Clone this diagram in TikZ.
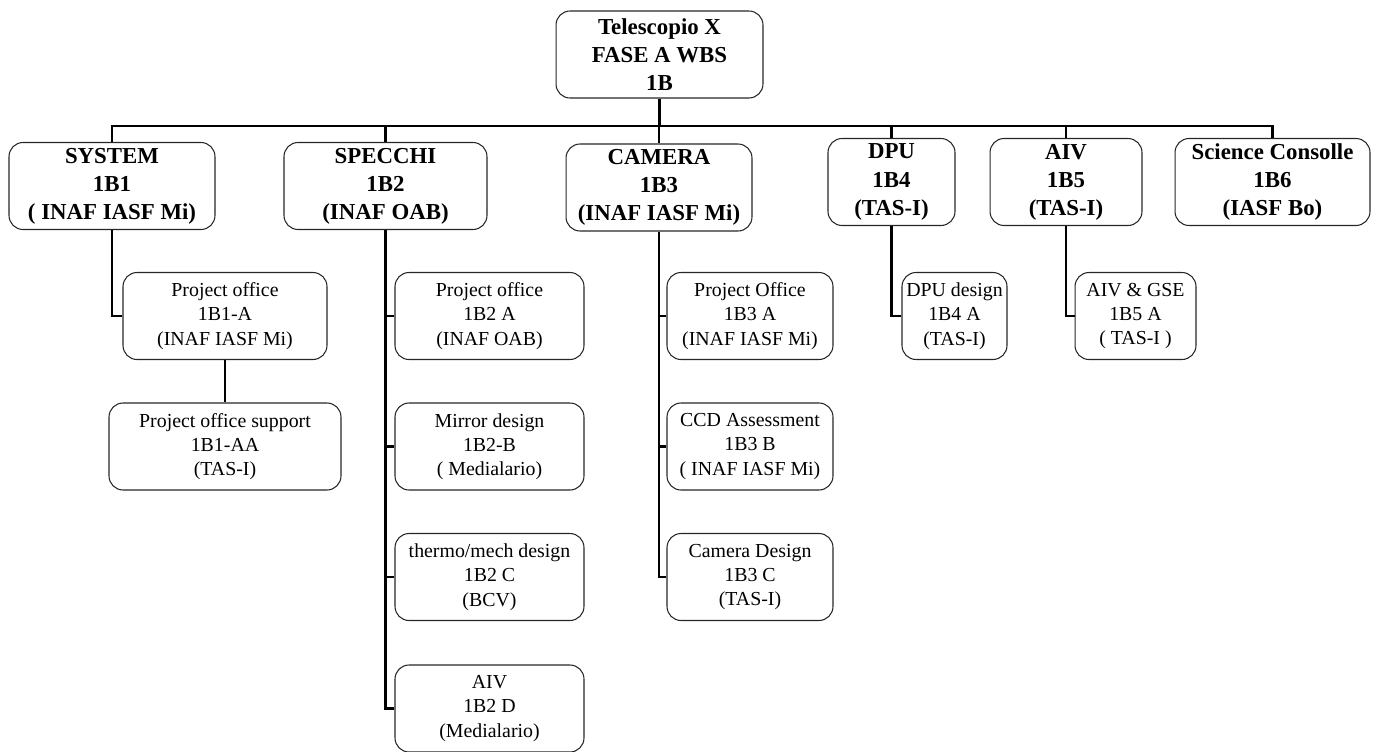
\documentclass[tikz,border=0pt]{standalone}
\usepackage{tikz}
\usepackage{xcolor}
\usepackage{fontspec}
\setmainfont{Liberation Serif}
\usetikzlibrary{shapes}
\usetikzlibrary{positioning}

\begin{document}
\begin{tikzpicture}[x=0.02cm, y=-0.02cm,
    box/.style={rectangle, rounded corners=0.28cm, draw=black!85, line width=0.6pt, align=center, inner sep=1pt},
    head_box/.style={box, minimum height=1.74cm, font=\bfseries\fontsize{13pt}{16pt}\selectfont},
    task_box/.style={box, minimum height=1.74cm, font=\fontsize{11.3pt}{13.8pt}\selectfont},
    link/.style={draw=black, line width=1.3pt}]

    \useasboundingbox (0,0) rectangle (1375,751);

    \node (root) [head_box, minimum width=4.14cm] at (659.5,54.5) {Telescopio X\\FASE A WBS\\1B};

    \coordinate (bus) at (0,126);

    \node (system) [head_box, minimum width=4.12cm] at (112,186) {SYSTEM\\1B1\\( INAF IASF Mi)};
    \node (specchi) [head_box, minimum width=4.06cm] at (385.5,186) {SPECCHI\\1B2\\(INAF OAB)};
    \node (camera) [head_box, minimum width=3.72cm] at (659,187.5) {CAMERA\\1B3\\(INAF IASF Mi)};
    \node (dpu) [head_box, minimum width=2.54cm] at (891.5,182) {DPU\\1B4\\(TAS-I)};
    \node (aiv) [head_box, minimum width=3.04cm] at (1066,182) {AIV\\1B5\\(TAS-I)};
    \node (science) [head_box, minimum width=3.9cm] at (1272.5,182) {Science Consolle\\1B6\\(IASF Bo)};

    % system branch
    \node (system_a) [task_box, minimum width=4.08cm] at (225,316) {Project office\\1B1-A\\(INAF IASF Mi)};
    \node (system_aa) [task_box, minimum width=4.64cm] at (225,446.5) {Project office support\\1B1-AA\\(TAS-I)};

    % specchi branch
    \node (specchi_a) [task_box, minimum width=3.78cm] at (489.5,316) {Project office\\1B2 A\\(INAF OAB)};
    \node (specchi_b) [task_box, minimum width=3.78cm] at (489.5,446.5) {Mirror design\\1B2-B\\( Medialario)};
    \node (specchi_c) [task_box, minimum width=3.78cm] at (489.5,577) {thermo/mech design\\1B2 C\\(BCV)};
    \node (specchi_d) [task_box, minimum width=3.78cm] at (489.5,708.5) {AIV\\1B2 D\\(Medialario)};

    % camera branch
    \node (camera_a) [task_box, minimum width=3.32cm] at (750,316) {Project Office\\1B3 A\\(INAF IASF Mi)};
    \node (camera_b) [task_box, minimum width=3.32cm] at (750,446.5) {CCD Assessment\\1B3 B\\( INAF IASF Mi)};
    \node (camera_c) [task_box, minimum width=3.32cm] at (750,577) {Camera Design\\1B3 C\\(TAS-I)};

    \node (dpu_a) [task_box, minimum width=2.1cm] at (954.5,316) {DPU design\\1B4 A\\(TAS-I)};
    \node (aiv_a) [task_box, minimum width=2.42cm] at (1135.5,316) {AIV \& GSE\\1B5 A\\( TAS-I )};

    % connectors
    \draw [link] (root.south) -- (root.south |- bus);
    \draw [link] (system.north) |- (science.north |- bus) -- (science.north);
    \foreach \head in {specchi, camera, dpu, aiv}
        \draw [link] (\head.north) -- (\head.north |- bus);

    \draw [link] (system.south) |- (system_a.west);
    \draw [link] (system_a.south) -- (system_aa.north);
    \foreach \sub in {specchi_a, specchi_b, specchi_c, specchi_d}
        \draw [link] (specchi.south) |- (\sub.west);
    \foreach \sub in {camera_a, camera_b, camera_c}
        \draw [link] (camera.south) |- (\sub.west);
    \draw [link] (dpu.south) |- (dpu_a.west);
    \draw [link] (aiv.south) |- (aiv_a.west);

\end{tikzpicture}
\end{document}
